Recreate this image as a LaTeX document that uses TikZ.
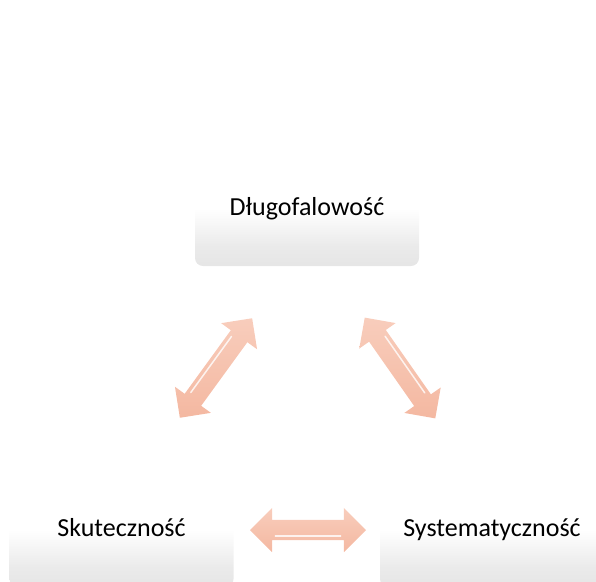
\documentclass[tikz,border=0pt]{standalone}
\usepackage{fontspec}
\setmainfont{Carlito}
\usepackage{tikz}
\usetikzlibrary{shapes.arrows,calc}

\definecolor{peach}{HTML}{F4B8A1}
\definecolor{peachlight}{HTML}{F8CDBC}
\pgfdeclareverticalshading{boxshade}{100bp}{color(0bp)=(black!10); color(25bp)=(black!10);
	color(34bp)=(black!8); color(50bp)=(white); color(100bp)=(white)}

\begin{document}
\begin{tikzpicture}[x=1pt,y=-1pt,
	box/.style={rounded corners=8pt, minimum width=224pt, minimum height=114pt,
		shading=boxshade, draw=none,
		text height=18pt, text depth=6pt, font=\fontsize{26}{30}\selectfont},
	dblarrow/.style={double arrow, minimum height=#1, minimum width=44pt,
		double arrow head extend=12pt, inner sep=10pt, draw=none,
		top color=peachlight, bottom color=peach}]
	\useasboundingbox (0,0) rectangle (596,581);
	\clip (0,0) rectangle (596,581);

	% Points
	\coordinate (pTop) at (307,209);
	\coordinate (pLeft) at (121.5,530);
	\coordinate (pRight) at (492,530);
	\coordinate (aLeft) at (216,368);
	\coordinate (aRight) at (400,368);
	\coordinate (aBottom) at (308,530);

	% Boxes
	\node[box] (dlugo) at (pTop) {Długofalowość};
	\node[box] (skut) at (pLeft) {Skuteczność};
	\node[box] (syst) at (pRight) {Systematyczność};

	% Arrows
	\node[dblarrow=123pt, rotate=54] (arrL) at (aLeft) {};
	\node[dblarrow=123pt, rotate=-55] (arrR) at (aRight) {};
	\node[dblarrow=116pt] (arrB) at (aBottom) {};

	% Shine
	\foreach \a/\s in {arrL/-90, arrR/-90, arrB/90} {
		\draw[white, line width=1.5pt, opacity=0.8, line cap=round]
			($(\a.tip 1)!0.22!(\a.tip 2)!6pt!\s:(\a.tip 2)$) --
			($(\a.tip 1)!0.78!(\a.tip 2)!6pt!\s:(\a.tip 2)$);
	}
\end{tikzpicture}
\end{document}
